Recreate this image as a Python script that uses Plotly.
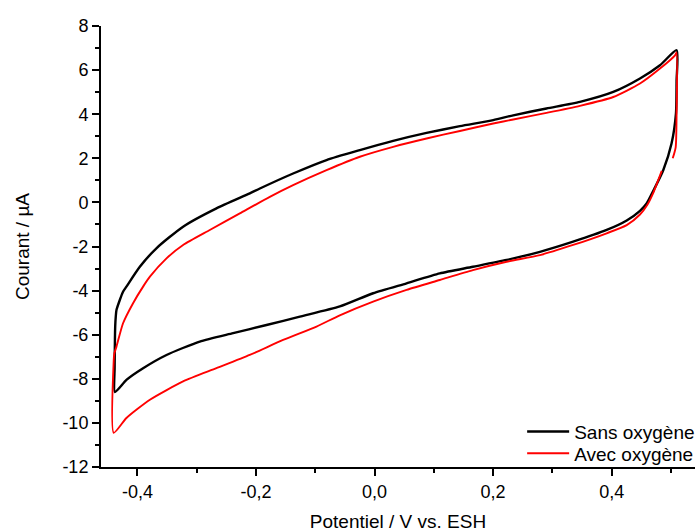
import plotly.graph_objects as go

# --- Data (potential in V vs. ESH, current in µA) ---
x_sans = [0.5097, 0.5095, 0.5085, 0.501, 0.487, 0.472, 0.459, 0.4478, 0.4254, 0.3916, 0.335,
          0.279, 0.2228, 0.166, 0.110, 0.054, -0.0024, -0.0586, -0.126, -0.1823,
          -0.2386, -0.2949, -0.351, -0.3905, -0.4186, -0.438,
          -0.4385, -0.438, -0.4375, -0.4366, -0.4354, -0.4243, -0.4186, -0.396, -0.368,
          -0.323, -0.2667, -0.2105, -0.1935, -0.1374, -0.081, -0.0248, 0.0314, 0.0877,
          0.144, 0.2002, 0.234, 0.290, 0.3465, 0.4027, 0.4478, 0.4815, 0.5097]
y_sans = [6.90, 5.5, 4.04, 2.67, 1.46, 0.62, -0.05, -0.38, -0.82, -1.25, -1.78,
          -2.24, -2.61, -2.92, -3.22, -3.67, -4.12, -4.72, -5.18, -5.56,
          -5.93, -6.31, -6.92, -7.52, -8.05, -8.60,
          -7.5, -6.2, -5.6, -5.18, -4.88, -4.05, -3.82, -2.92, -2.08,
          -1.10, -0.27, 0.41, 0.63, 1.31, 1.92, 2.37, 2.79, 3.15,
          3.46, 3.73, 3.95, 4.26, 4.56, 5.01, 5.62, 6.22, 6.90]

x_avec = [0.4845, 0.47, 0.46, 0.4478, 0.4254, 0.3916, 0.335, 0.279, 0.2228, 0.166, 0.110, 0.054,
          -0.0024, -0.0586, -0.0979, -0.1543, -0.2105, -0.2667, -0.323, -0.379,
          -0.4186, -0.440,
          -0.440, -0.439, -0.4354, -0.4243, -0.4074, -0.3905, -0.379, -0.351, -0.323,
          -0.278, -0.2273, -0.1767, -0.1374, -0.081, -0.0248, 0.0314, 0.0877, 0.144,
          0.2002, 0.234, 0.290, 0.3465, 0.4027, 0.4478, 0.4815, 0.5069, 0.5095,
          0.5095, 0.508, 0.503]
y_avec = [1.43, 0.42, -0.12, -0.55, -1.03, -1.40, -1.93, -2.39, -2.69, -3.07, -3.52, -3.97,
          -4.50, -5.12, -5.63, -6.24, -6.92, -7.52, -8.12, -8.95,
          -9.78, -10.45,
          -7.15, -6.85, -6.54, -5.48, -4.57, -3.82, -3.37, -2.54, -1.93,
          -1.25, -0.50, 0.25, 0.78, 1.46, 2.07, 2.52, 2.90, 3.24,
          3.58, 3.76, 4.06, 4.38, 4.78, 5.39, 6.07, 6.67, 6.80,
          4.0, 2.5, 2.0]

x_tickvals = [-0.4, -0.2, 0.0, 0.2, 0.4]
x_ticktext = ["-0,4", "-0,2", "0,0", "0,2", "0,4"]
x_minorvals = [-0.3, -0.1, 0.1, 0.3, 0.5]
y_tickvals = [-12, -10, -8, -6, -4, -2, 0, 2, 4, 6, 8]
y_ticktext = ["-12", "-10", "-8", "-6", "-4", "-2", "0", "2", "4", "6", "8"]
y_minorvals = [-11, -9, -7, -5, -3, -1, 1, 3, 5, 7]

FONT = "Liberation Sans, Arial, sans-serif"

fig = go.Figure()
fig.add_trace(go.Scatter(x=x_sans, y=y_sans, mode="lines", name="Sans oxygène",
                         legend="legend",
                         line=dict(color="#000000", width=2.4, shape="spline", smoothing=0.6)))
fig.add_trace(go.Scatter(x=x_avec, y=y_avec, mode="lines", name="Avec oxygène",
                         legend="legend2",
                         line=dict(color="#ff0000", width=1.9, shape="spline", smoothing=0.6)))

axis_common = dict(showgrid=False, zeroline=False, showline=True, linecolor="black",
                   linewidth=2, ticks="outside", ticklen=7, tickwidth=2, tickcolor="black",
                   tickfont=dict(family=FONT, size=18, color="black"), mirror=False)

fig.update_layout(
    width=695, height=532,
    margin=dict(l=101, r=0, t=26, b=65, autoexpand=False),
    paper_bgcolor="white", plot_bgcolor="white",
    font=dict(family=FONT, size=18, color="black"),
    showlegend=True,
    legend=dict(x=0.709, y=0.080, xanchor="left", yanchor="middle",
                bgcolor="rgba(0,0,0,0)", borderwidth=0,
                font=dict(family=FONT, size=19, color="black"), itemwidth=42),
    legend2=dict(x=0.709, y=0.031, xanchor="left", yanchor="middle",
                 bgcolor="rgba(0,0,0,0)", borderwidth=0,
                 font=dict(family=FONT, size=19, color="black"), itemwidth=42),
    xaxis=dict(range=[-0.4615, 0.5406], tickmode="array", tickvals=x_tickvals,
               ticktext=x_ticktext,
               minor=dict(tickmode="array", tickvals=x_minorvals, ticks="outside",
                          ticklen=4, tickwidth=2, tickcolor="black"),
               title=dict(text="Potentiel / V vs. ESH", standoff=14,
                          font=dict(family=FONT, size=19, color="black")),
               **axis_common),
    yaxis=dict(range=[-12, 8], tickmode="array", tickvals=y_tickvals,
               ticktext=y_ticktext,
               minor=dict(tickmode="array", tickvals=y_minorvals, ticks="outside",
                          ticklen=4, tickwidth=2, tickcolor="black"),
               title=dict(text="Courant / µA", standoff=28,
                          font=dict(family=FONT, size=19, color="black")),
               **axis_common),
)

fig.write_html(
    "out.html",
    config={"displayModeBar": False},
    post_script="document.body.style.margin='0';document.body.style.overflow='hidden';",
)
